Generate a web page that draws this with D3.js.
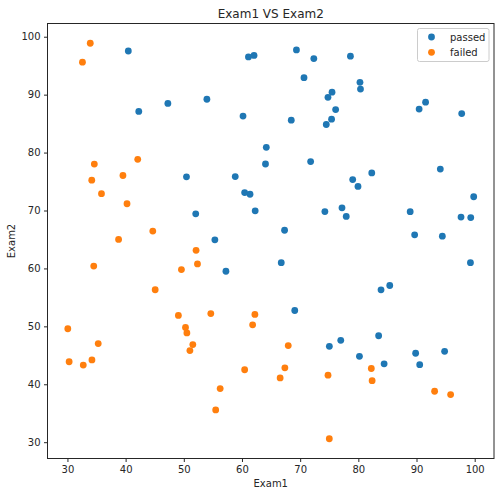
<!DOCTYPE html>
<html><head><meta charset="utf-8">
<script src="https://cdn.jsdelivr.net/npm/d3@7"></script>
<style>body{margin:0;background:#fff}svg{display:block;font-family:"DejaVu Sans",sans-serif}</style>
</head><body>
<svg id="c" width="500" height="496"></svg>
<script>
const exam1 = [34.62,30.29,35.85,60.18,79.03,45.08,61.11,75.02,76.10,84.43,95.86,75.01,82.31,69.36,39.54,53.97,69.07,67.95,70.66,76.98,67.37,89.68,50.53,34.21,77.92,62.27,80.19,93.11,61.83,38.79,61.38,85.40,52.11,52.05,40.24,54.64,33.92,64.18,74.79,34.18,83.90,51.55,94.44,82.37,51.05,62.22,77.19,97.77,62.07,91.56,79.94,99.27,90.55,34.52,50.29,49.59,97.65,32.58,74.25,71.80,75.40,35.29,56.25,30.06,44.67,66.56,40.46,49.07,80.28,66.75,32.72,64.04,72.35,60.46,58.84,99.83,47.26,50.46,60.46,82.23,88.91,94.83,67.32,57.24,80.37,68.47,42.08,75.48,78.64,52.35,94.09,90.45,55.48,74.49,89.85,83.49,42.26,99.32,55.34,74.78];
const exam2 = [78.02,43.89,72.90,86.31,75.34,56.32,96.51,46.55,87.42,43.53,38.23,30.60,76.48,97.72,76.04,89.21,52.74,46.68,92.93,47.58,42.84,65.80,48.86,44.21,68.97,69.95,44.82,38.80,50.26,65.00,72.81,57.05,63.13,69.43,71.17,52.21,98.87,80.91,41.57,75.24,56.31,46.86,65.57,40.62,45.82,52.06,70.46,86.73,96.77,88.70,74.16,61.00,43.39,60.40,49.80,59.81,68.86,95.60,69.82,78.45,85.76,47.02,39.26,49.59,66.45,41.09,97.54,51.88,92.12,60.99,43.31,78.03,96.23,73.09,75.86,72.37,88.48,75.81,42.51,42.72,69.80,45.69,66.59,59.51,90.96,85.59,78.84,90.42,96.65,60.77,77.16,87.51,35.57,84.85,45.36,48.38,87.10,68.78,64.93,89.53];
const admitted = [0,0,0,1,1,0,1,1,1,1,0,0,1,1,0,1,1,0,1,1,0,1,0,0,1,1,1,0,0,0,1,1,0,1,0,0,0,1,0,0,1,0,1,0,0,0,1,1,1,1,1,1,1,0,0,0,1,0,1,1,1,0,0,0,0,0,1,0,1,1,0,1,1,1,1,1,1,1,0,0,1,1,1,1,1,1,0,1,1,0,1,1,0,1,1,1,1,1,1,1];
const xTicks = [30,40,50,60,70,80,90,100];
const yTicks = [30,40,50,60,70,80,90,100];
const seriesNames = ["passed","failed"];
const colors = ["#1f77b4","#ff7f0e"];

const L=47.5,R=494,T=23.5,B=458.5;
const svg=d3.select("#c");
const pad=(a)=>{const e=d3.extent(a),m=(e[1]-e[0])*0.05;return [e[0]-m,e[1]+m];};
const x=d3.scaleLinear().domain(pad(exam1)).range([L,R]);
const y=d3.scaleLinear().domain(pad(exam2)).range([B,T]);

const pts=exam1.map((v,i)=>({x:v,y:exam2[i],a:admitted[i]}));
[1,0].forEach((cls,k)=>{
  svg.append("g").selectAll("circle").data(pts.filter(d=>d.a===cls)).join("circle")
    .attr("cx",d=>x(d.x)).attr("cy",d=>y(d.y)).attr("r",3.4).attr("fill",colors[k]);
});

const xa=svg.append("g").attr("transform",`translate(0,${B})`).call(d3.axisBottom(x).tickValues(xTicks).tickSize(3.5).tickPadding(3.5));
const ya=svg.append("g").attr("transform",`translate(${L},0)`).call(d3.axisLeft(y).tickValues(yTicks).tickSize(3.5).tickPadding(3.5));
[xa,ya].forEach(a=>{a.select(".domain").remove();a.selectAll("text").attr("font-size","10px").attr("fill","#262626").attr("font-family","DejaVu Sans");a.selectAll("line").attr("stroke","#262626");});
svg.append("rect").attr("x",L).attr("y",T).attr("width",R-L).attr("height",B-T).attr("fill","none").attr("stroke","#262626").attr("stroke-width",1);

svg.append("text").attr("x",(L+R)/2).attr("y",T-6).attr("text-anchor","middle").attr("font-size","12px").attr("fill","#262626").text("Exam1 VS Exam2");
svg.append("text").attr("x",(L+R)/2).attr("y",487).attr("text-anchor","middle").attr("font-size","10px").attr("fill","#262626").text("Exam1");
svg.append("text").attr("transform",`translate(14.5,${(T+B)/2}) rotate(-90)`).attr("text-anchor","middle").attr("font-size","10px").attr("fill","#262626").text("Exam2");

const lg=svg.append("g");
lg.append("rect").attr("x",417.5).attr("y",28.5).attr("width",71.5).attr("height",33).attr("rx",2).attr("fill","#fff").attr("fill-opacity",0.8).attr("stroke","#ccc");
seriesNames.forEach((n,i)=>{
  lg.append("circle").attr("cx",431.5).attr("cy",37+i*15.3).attr("r",3.4).attr("fill",colors[i]);
  lg.append("text").attr("x",450).attr("y",40.5+i*15.3).attr("font-size","10px").attr("fill","#262626").text(n);
});
</script>
</body></html>
